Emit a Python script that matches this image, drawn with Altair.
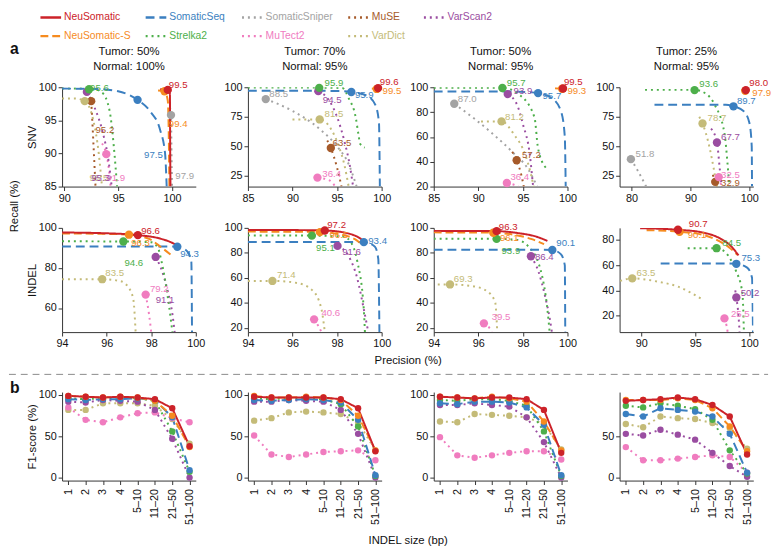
import altair as alt
import pandas as pd

FONT = "Liberation Sans, Arial, Helvetica, sans-serif"

TOOLS = ["NeuSomatic", "SomaticSeq", "SomaticSniper", "MuSE", "VarScan2",
         "NeuSomatic-S", "Strelka2", "MuTect2", "VarDict"]
COLORS = ["#cc2229", "#3b7fc0", "#a3a3a3", "#a65a2a", "#9a4da1",
          "#f68b1f", "#4daf4a", "#f07cbf", "#c4bb78"]
DASHES = [[1, 0], [9, 5], [2, 4], [2, 4], [2, 4], [8, 4], [2, 4], [2, 4], [2, 4]]
DRAW_ORDER = ["SomaticSniper", "MuSE", "VarDict", "MuTect2", "VarScan2",
              "Strelka2", "SomaticSeq", "NeuSomatic-S", "NeuSomatic"]

PANEL_TITLES = [["Tumor: 50%", "Normal: 100%"], ["Tumor: 70%", "Normal: 95%"],
                ["Tumor: 50%", "Normal: 95%"], ["Tumor: 25%", "Normal: 95%"]]

# tool: (precision list, recall list, marked point, label, label anchor)
SNV_1 = {
    "NeuSomatic": ([98.9, 99.6, 99.8, 99.82, 99.85], [99.7, 99.6, 99.0, 92, 85], (99.6, 99.6), "99.5", (99.7, 100.4)),
    "NeuSomatic-S": ([98.7, 99.3, 99.6, 99.7, 99.75], [99.5, 99.4, 98.0, 92, 85], (99.3, 99.4), "99.4", (99.7, 94.5)),
    "SomaticSeq": ([89.8, 93.0, 95.0, 96.8, 98.0, 98.9, 99.35, 99.5], [99.8, 99.75, 99.4, 98.1, 96.3, 93.5, 90, 85], (96.8, 98.1), "97.5", (97.4, 89.7)),
    "SomaticSniper": ([99.8, 99.9, 99.95, 100.0], [97.0, 95.8, 90, 85], (99.9, 95.8), "97.9", (100.3, 86.6)),
    "MuSE": ([92.5, 92.6, 92.75, 92.9], [97.9, 95, 90, 85], (92.5, 97.9), "95.2", (92.9, 93.6)),
    "VarDict": ([89.8, 91.0, 91.9, 92.7, 93.2, 93.5], [98.3, 98.3, 97.9, 95, 90, 85], (91.9, 97.9), "95.5", (92.35, 86.3)),
    "VarScan2": ([92.1, 92.8, 93.6, 94.1, 94.4], [99.3, 97, 93, 89, 85], (92.1, 99.3), "95.3", (92.5, 86.3)),
    "Strelka2": ([89.8, 92.5, 93.5, 94.2, 94.6, 94.9], [99.8, 99.8, 99.2, 96.5, 91, 85], (92.3, 99.7), "95.6", (92.4, 99.9)),
    "MuTect2": ([93.5, 93.9, 94.15, 94.3], [91.5, 89.9, 87.5, 85], (93.9, 89.9), "91.9", (93.9, 86.3)),
}
SNV_2 = {
    "NeuSomatic": ([99.1, 99.6, 99.8], [99.6, 99.3, 97.8], (99.6, 99.3), "99.6", (99.8, 104.5)),
    "NeuSomatic-S": ([98.9, 99.45, 99.7], [98.9, 98.6, 97.0], (99.45, 98.6), "99.5", (100.1, 96.7)),
    "SomaticSeq": ([85, 93, 95.5, 96.6, 98.3, 99.3, 99.7, 99.8], [97.0, 97.0, 96.7, 96.0, 93, 85, 70, 16], (96.6, 96.0), "95.9", (97.0, 93.8)),
    "Strelka2": ([85, 93.0, 95.6, 96.3, 97.1, 97.4, 97.6, 98.1], [99.7, 99.7, 99.3, 90.8, 74.2, 60, 52, 49], (93.0, 99.5), "95.9", (93.6, 103.3)),
    "VarScan2": ([92.9, 94.0, 95.0, 95.8, 96.4, 96.8], [96.7, 90, 75, 55, 35, 16], (92.9, 96.7), "94.5", (93.4, 89.4)),
    "SomaticSniper": ([87.0, 90.0, 93.0, 95.0, 96.3, 97.2], [90, 80, 65, 50, 35, 16], (87.0, 90.0), "88.5", (87.4, 94.5)),
    "VarDict": ([90.0, 93.05, 94.3, 95.2, 95.8, 96.3], [72.8, 72.8, 65, 50, 35, 16], (93.05, 72.8), "81.5", (93.6, 77)),
    "MuSE": ([93.9, 94.3, 95.0, 95.5], [55, 48.6, 32, 16], (94.3, 48.6), "63.5", (94.5, 52.8)),
    "MuTect2": ([92.8, 94.2, 94.8], [23.6, 21, 16], (92.8, 23.6), "36.4", (93.35, 27)),
}
SNV_3 = {
    "NeuSomatic": ([99.0, 99.5, 99.8], [99.4, 99.0, 97.0], (99.5, 99.0), "99.5", (99.6, 104.2)),
    "NeuSomatic-S": ([98.6, 99.4, 99.7], [99.2, 98.8, 97.3], (99.4, 98.8), "99.3", (100.0, 96.8)),
    "SomaticSeq": ([85, 93, 95.5, 96.7, 98.3, 99.3, 99.7, 99.8], [96.6, 96.6, 96.2, 95.3, 91, 80, 60, 20], (96.7, 95.3), "95.7", (97.2, 92.7)),
    "Strelka2": ([85, 92.7, 94.6, 96.3, 96.7, 97.6], [99.7, 99.7, 94, 75.7, 50.8, 35], (92.7, 99.4), "95.7", (93.2, 103)),
    "VarScan2": ([93.3, 94.4, 95.0, 95.8, 96.1, 96.15], [94.5, 85, 70.4, 44.3, 23.4, 20], (93.3, 94.5), "93.9", (93.95, 96.6)),
    "SomaticSniper": ([87.3, 89.5, 91.6, 93.8, 95.6, 96.6], [86.7, 75, 62.6, 48, 33.9, 20], (87.3, 86.7), "87.0", (87.7, 90.8)),
    "VarDict": ([90.3, 92.6, 94.0, 95.3, 95.9, 96.2], [72.5, 72.5, 62, 45, 30, 20], (92.6, 72.5), "81.2", (93.0, 76.2)),
    "MuSE": ([93.8, 94.3, 94.8, 95.1], [48, 41.2, 30, 20], (94.3, 41.2), "57.2", (94.9, 45.6)),
    "MuTect2": ([93.2, 94.0, 94.5], [22.9, 21.5, 20], (93.2, 22.9), "36.4", (93.6, 27.3)),
}
SNV_4 = {
    "NeuSomatic": ([98.8, 99.4, 99.7], [98.0, 97.6, 96.5], (99.4, 97.6), "98.0", (100.0, 103.3)),
    "NeuSomatic-S": ([98.6, 99.3, 99.6], [97.6, 97.0, 95.5], (99.3, 97.0), "97.9", (100.5, 95.0)),
    "SomaticSeq": ([83.9, 96.0, 97.3, 99.0, 100.0, 100.4, 100.45], [85.3, 85.3, 83.9, 80, 70, 50, 16], (97.3, 83.9), "89.7", (97.9, 88.6)),
    "Strelka2": ([82.3, 90.7, 92.8, 94.1, 95.8, 96.3, 96.6], [97.8, 97.8, 94, 85.3, 60.3, 35, 16], (90.7, 97.6), "93.6", (91.5, 102.5)),
    "VarDict": ([91.5, 92.05, 93.2, 94.0, 94.5], [75, 69.4, 50, 30, 16], (92.05, 69.4), "78.7", (92.9, 74.2)),
    "VarScan2": ([93.5, 94.5, 95.0, 95.3], [65, 53.3, 30, 16], (94.5, 53.3), "67.7", (95.2, 57.5)),
    "SomaticSniper": ([79.9, 81.0, 82.5], [39.2, 30, 16], (79.9, 39.2), "51.8", (80.7, 43.1)),
    "MuTect2": ([94.8, 95.3], [24, 16], (94.8, 24), "32.5", (95.2, 25.6)),
    "MuSE": ([93.8, 94.2, 94.5], [26, 20, 16], (94.2, 20.0), "32.9", (95.2, 18.6)),
}

INDEL_1 = {
    "NeuSomatic": ([94.0, 96.0, 97.4, 98.45, 99.0, 99.25], [97.7, 97.3, 96.4, 94.5, 92.2, 90.4], (97.4, 96.4), "96.6", (97.55, 98.5)),
    "NeuSomatic-S": ([94.0, 96.0, 97.0, 97.9, 98.45, 99.0], [97.2, 97.0, 96.6, 94.5, 90.3, 85.5], (97.0, 96.6), "96.3", (97.1, 92.3)),
    "Strelka2": ([94.0, 96.75, 98.0, 98.3, 98.45, 98.8, 98.95], [93.3, 93.2, 92.8, 90, 83.8, 61, 48], (96.75, 93.2), "94.6", (96.8, 82.5)),
    "SomaticSeq": ([94.0, 98.5, 99.17, 99.6, 99.8, 99.83], [90.7, 90.7, 90.6, 88.5, 83, 48], (99.17, 90.6), "94.3", (99.3, 87.1)),
    "VarScan2": ([98.2, 98.5, 98.75, 98.95, 99.05], [85.5, 78, 68, 57, 48], (98.2, 85.5), "91.1", (98.2, 63.9)),
    "VarDict": ([94.0, 95.8, 96.6, 97.0, 97.2, 97.3], [74.4, 74.4, 73.5, 70, 64, 48], (95.8, 74.4), "83.5", (95.94, 77.3)),
    "MuTect2": ([97.75, 97.9, 98.0], [66.7, 57, 48], (97.75, 66.7), "79.2", (97.94, 69.5)),
}
INDEL_2 = {
    "NeuSomatic": ([94, 96.5, 97.45, 98.4, 98.9, 99.2], [98.3, 98.2, 97.9, 96, 93, 89.6], (97.45, 97.9), "97.2", (97.56, 102.6)),
    "NeuSomatic-S": ([94, 96.5, 97.23, 98.2, 98.8, 99.1], [97.0, 96.9, 96.6, 94.5, 91, 87], (97.23, 96.6), "96.5", (97.66, 94.3)),
    "Strelka2": ([94, 96.87, 98.3, 98.6, 98.9, 99.2, 99.25], [94.0, 93.8, 93, 89, 73.9, 34.7, 16.7], (96.87, 93.8), "95.1", (97.06, 83.8)),
    "SomaticSeq": ([94, 98.6, 99.2, 99.7, 99.85, 99.9], [88.8, 88.8, 88.6, 85, 75, 16.7], (99.2, 88.6), "93.4", (99.4, 89.6)),
    "VarScan2": ([98.02, 98.5, 98.9, 99.2, 99.4], [85.6, 78, 60, 35, 16.7], (98.02, 85.6), "91.6", (98.23, 80.4)),
    "VarDict": ([94, 95.1, 96.2, 96.9, 97.3, 97.45], [57.6, 57.6, 56, 50, 35, 16.7], (95.1, 57.6), "71.4", (95.3, 62.1)),
    "MuTect2": ([96.97, 97.15, 97.3], [26.9, 22, 16.7], (96.97, 26.9), "40.6", (97.3, 32.3)),
}
INDEL_3 = {
    "NeuSomatic": ([94, 96.0, 96.82, 97.8, 98.6, 99.1], [97.6, 97.5, 97.4, 95.8, 93, 89.6], (96.82, 97.4), "96.3", (96.92, 100.5)),
    "NeuSomatic-S": ([94, 96.0, 96.67, 97.6, 98.4, 98.95], [96.4, 96.3, 96.1, 94.5, 91, 87], (96.67, 96.1), "96.1", (96.97, 92.2)),
    "Strelka2": ([94, 96.82, 97.7, 98.2, 98.8, 99.1, 99.2], [91.4, 91.2, 90.5, 86, 66, 34.7, 16.7], (96.82, 91.2), "93.9", (97.04, 81.2)),
    "SomaticSeq": ([94, 98.8, 99.32, 99.7, 99.88, 99.9], [82.5, 82.5, 82.3, 79, 70, 16.7], (99.32, 82.3), "90.1", (99.5, 87.5)),
    "VarScan2": ([98.36, 98.7, 99.0, 99.2, 99.3], [77.3, 65, 45, 28, 16.7], (98.36, 77.3), "86.4", (98.54, 76.5)),
    "VarDict": ([94.18, 94.73, 95.7, 96.3, 96.75, 96.85], [54.8, 54.8, 53.5, 50.4, 41.2, 16.7], (94.73, 54.8), "69.3", (94.9, 59.5)),
    "MuTect2": ([96.25, 96.5, 96.6], [23.7, 20, 16.7], (96.25, 23.7), "39.5", (96.6, 28.5)),
}
INDEL_4 = {
    "NeuSomatic": ([89.9, 93.4, 95.6, 97.4, 98.3, 99.0], [89.0, 87.8, 85.8, 80.5, 75, 67.6], (93.4, 87.8), "90.7", (94.4, 92.6)),
    "NeuSomatic-S": ([90.5, 93.55, 95.6, 97.3, 98.2, 98.9], [87.5, 86.2, 84, 78.5, 73.5, 68], (93.55, 86.2), "90.1", (94.3, 83.9)),
    "Strelka2": ([94.3, 96.97, 97.8, 98.3, 98.74, 99.36, 99.5], [73.3, 73.3, 70, 64, 56, 37.9, 7.2], (96.97, 73.3), "84.5", (97.5, 77.2)),
    "SomaticSeq": ([91.8, 98.0, 98.8, 99.8, 100.25, 100.34], [61.2, 61.2, 61.0, 58, 50, 7.2], (98.8, 61.0), "75.3", (99.27, 65.5)),
    "VarScan2": ([98.7, 98.8, 99.0, 99.1], [40, 34.5, 20, 7.2], (98.8, 34.5), "50.2", (99.2, 37.9)),
    "VarDict": ([88.05, 89.17, 91.5, 93.4, 95.7], [47.5, 49.5, 47, 43, 32.7], (89.17, 49.5), "63.5", (89.57, 53.9)),
    "MuTect2": ([97.7, 97.9, 98.0], [18, 12, 7.2], (97.7, 18), "25.5", (98.3, 21.5)),
}

SNV_PANELS = [SNV_1, SNV_2, SNV_3, SNV_4]
SNV_XDOM = [[89.8, 102.2], [85, 100], [85, 100], [77.98, 100.67]]
SNV_YDOM = [[85, 100], [16, 100], [20, 100], [16, 100]]
SNV_XTICKS = [[90, 95, 100], [85, 90, 95, 100], [85, 90, 95, 100], [80, 90, 100]]
SNV_YTICKS = [[85, 90, 95, 100], [25, 50, 75, 100], [20, 40, 60, 80, 100], [25, 50, 75, 100]]

INDEL_PANELS = [INDEL_1, INDEL_2, INDEL_3, INDEL_4]
INDEL_XDOM = [[94, 100], [94, 100], [94, 100], [88.0, 100.37]]
INDEL_YDOM = [[48, 100], [16.7, 100], [16.7, 100], [7.2, 89.3]]
INDEL_XTICKS = [[94, 96, 98, 100], [94, 96, 98, 100], [94, 96, 98, 100], [90, 95, 100]]
INDEL_YTICKS = [[60, 80, 100], [20, 40, 60, 80, 100], [20, 40, 60, 80, 100], [20, 40, 60, 80]]

SIZES = ["1", "2", "3", "4", "5\u201310", "11\u201320", "21\u201350", "51\u2013100"]
F1_1 = {
    "NeuSomatic": [99, 98, 97, 98, 97, 95, 84, 38],
    "NeuSomatic-S": [99, 98, 97, 98, 97, 93, 75, 37],
    "SomaticSeq": [95, 94, 95, 95, 96, 94, 73, 9],
    "Strelka2": [96, 95, 96, 97, 96, 93, 56, 7],
    "VarScan2": [92, 91, 94, 93, 92, 82, 47, 0],
    "VarDict": [82, 82, 90, 90, 90, 87, 71, 41],
    "MuTect2": [85, 70, 67, 73, 78, 79, 72, 67],
}
F1_2 = {
    "NeuSomatic": [98, 97, 97, 97, 97, 95, 84, 32],
    "NeuSomatic-S": [99, 97, 97, 98, 97, 94, 75, 33],
    "SomaticSeq": [94, 93, 94, 95, 94, 91, 70, 3],
    "Strelka2": [96, 95, 96, 96, 95, 89, 62, 2],
    "VarScan2": [92, 92, 94, 93, 92, 82, 53, 0],
    "VarDict": [69, 72, 79, 80, 79, 77, 67, 33],
    "MuTect2": [51, 28, 25, 28, 31, 32, 33, 21],
}
F1_3 = {
    "NeuSomatic": [98, 97, 96, 97, 97, 95, 82, 30],
    "NeuSomatic-S": [98, 97, 96, 98, 96, 92, 68, 33],
    "SomaticSeq": [90, 89, 92, 92, 91, 85, 64, 3],
    "Strelka2": [94, 93, 95, 95, 93, 87, 56, 2],
    "VarScan2": [88, 88, 90, 88, 86, 73, 43, 0],
    "VarDict": [68, 67, 77, 76, 75, 73, 65, 34],
    "MuTect2": [49, 27, 24, 27, 30, 32, 32, 22],
}
F1_4 = {
    "NeuSomatic": [93, 94, 95, 97, 95, 88, 74, 28],
    "NeuSomatic-S": [94, 94, 94, 96, 94, 84, 62, 32],
    "SomaticSeq": [77, 74, 84, 82, 80, 74, 53, 6],
    "Strelka2": [87, 85, 90, 87, 83, 70, 33, 5],
    "VarScan2": [53, 51, 58, 52, 46, 30, 14, 1],
    "VarDict": [65, 61, 74, 72, 71, 66, 60, 35],
    "MuTect2": [37, 21, 21, 23, 25, 27, 25, 6],
}
F1_PANELS = [F1_1, F1_2, F1_3, F1_4]
F1_YTICKS = [[0, 50, 100], [0, 50, 100], [0, 50, 100], [0, 50]]

# ---------------------------------------------------------------------------
# layout (pixels)
W = 136
LEG_H = 66
LEG_COL_X = [-22, 85, 183, 291, 368]   # start of each legend column, relative to first panel
LEG_ROW_Y = [5, 24]
LEG_LINE = 21

COLOR_SCALE = alt.Scale(domain=TOOLS, range=COLORS)
DASH_SCALE = alt.Scale(domain=TOOLS, range=DASHES)


def color_enc():
    return alt.Color("tool:N", scale=COLOR_SCALE, legend=None)


def dash_enc():
    return alt.StrokeDash("tool:N", scale=DASH_SCALE, legend=None)


def note(text, x, y, size=11.5, weight="normal", angle=0, align="center"):
    return alt.Chart(pd.DataFrame({"t": [text]})).mark_text(
        fontSize=size, fontWeight=weight, angle=angle, align=align,
        baseline="middle", font=FONT, color="#111"
    ).encode(text="t:N", x=alt.value(x), y=alt.value(y))


def legend_cell():
    rows = []
    for j, tool in enumerate(TOOLS):
        c, r = j % 5, j // 5
        x0 = LEG_COL_X[c]
        rows.append(dict(tool=tool, x0=x0, x1=x0 + LEG_LINE, xt=x0 + LEG_LINE + 3, y=LEG_ROW_Y[r]))
    df = pd.DataFrame(rows)
    X = lambda f: alt.X(f, scale=alt.Scale(domain=[0, W], nice=False, zero=False), axis=None)
    Y = alt.Y("y:Q", scale=alt.Scale(domain=[0, LEG_H], reverse=True, nice=False, zero=False), axis=None)
    rule = alt.Chart(df).mark_rule(strokeWidth=2.5).encode(
        X("x0:Q"), x2="x1:Q", y=Y, color=color_enc(), strokeDash=dash_enc())
    txt = alt.Chart(df).mark_text(align="left", baseline="middle", fontSize=10.5, font=FONT).encode(
        X("xt:Q"), y=Y, text="tool:N", color=color_enc())
    return alt.layer(rule, txt).properties(width=W, height=LEG_H)


def pr_frames(panel):
    L, P, T = [], [], []
    for tool in DRAW_ORDER:
        if tool not in panel:
            continue
        ps, rs, pt, lab, lp = panel[tool]
        for i, (a, b) in enumerate(zip(ps, rs)):
            L.append(dict(tool=tool, i=i, p=a, r=b))
        P.append(dict(tool=tool, p=pt[0], r=pt[1]))
        T.append(dict(tool=tool, p=lp[0], r=lp[1], text=lab))
    return pd.DataFrame(L), pd.DataFrame(P), pd.DataFrame(T)


def pr_panel(panel, xdom, ydom, xticks, yticks, height, ytitle=None, extras=()):
    dl, dp, dt = pr_frames(panel)
    X = alt.X("p:Q", scale=alt.Scale(domain=xdom, nice=False, zero=False),
              axis=alt.Axis(values=xticks, title=None))
    Y = alt.Y("r:Q", scale=alt.Scale(domain=ydom, nice=False, zero=False),
              axis=alt.Axis(values=yticks, title=ytitle, titlePadding=1))
    lines = alt.Chart(dl).mark_line(clip=True, strokeWidth=2, interpolate="monotone").encode(
        X, Y, color=color_enc(), strokeDash=dash_enc(), order=alt.Order("i:Q"))
    pts = alt.Chart(dp).mark_circle(size=72, opacity=1).encode(X, Y, color=color_enc())
    labs = alt.Chart(dt).mark_text(align="left", baseline="middle", fontSize=9.8, font=FONT).encode(
        X, Y, text="text:N", color=color_enc())
    return alt.layer(lines, pts, labs, *extras).properties(width=W, height=height)


def f1_panel(panel, yticks, ytitle=None, extras=()):
    rows = []
    for tool in DRAW_ORDER:
        if tool not in panel:
            continue
        for k, (s, v) in enumerate(zip(SIZES, panel[tool])):
            rows.append(dict(tool=tool, k=k, size=s, f1=v))
    df = pd.DataFrame(rows)
    X = alt.X("size:N", sort=SIZES, scale=alt.Scale(domain=SIZES, type="point", padding=0.36),
              axis=alt.Axis(labelAngle=270, title=None, labelPadding=4))
    Y = alt.Y("f1:Q", scale=alt.Scale(domain=[-3.6, 103.6], nice=False, zero=False),
              axis=alt.Axis(values=yticks, title=ytitle, titlePadding=1))
    lines = alt.Chart(df).mark_line(strokeWidth=2).encode(
        X, Y, color=color_enc(), strokeDash=dash_enc(), order=alt.Order("k:Q"))
    pts = alt.Chart(df).mark_circle(size=42, opacity=1).encode(X, Y, color=color_enc())
    return alt.layer(lines, pts, *extras).properties(width=W, height=90)


snv = []
for k in range(4):
    extras = [note(PANEL_TITLES[k][0], W / 2, -36), note(PANEL_TITLES[k][1], W / 2, -21)]
    if k == 0:
        extras.append(note("a", -53, -39, size=16, weight="bold", align="left"))
    snv.append(pr_panel(SNV_PANELS[k], SNV_XDOM[k], SNV_YDOM[k], SNV_XTICKS[k], SNV_YTICKS[k],
                        101, ytitle="SNV" if k == 0 else None, extras=extras))

indel = []
for k in range(4):
    extras = []
    if k == 0:
        extras = [note("Recall (%)", -48, -22, angle=270)]
    if k == 1:
        extras = [note("Precision (%)", 163, 135)]
    indel.append(pr_panel(INDEL_PANELS[k], INDEL_XDOM[k], INDEL_YDOM[k], INDEL_XTICKS[k],
                          INDEL_YTICKS[k], 106, ytitle="INDEL" if k == 0 else None, extras=extras))

f1 = []
for k in range(4):
    extras = []
    if k == 0:
        sep = alt.Chart(pd.DataFrame({"t": [0]})).mark_rule(
            strokeDash=[7, 5], color="#8a8a8a", strokeWidth=1
        ).encode(x=alt.value(-54), x2=alt.value(718), y=alt.value(-18))
        extras = [sep, note("b", -53, -4, size=16, weight="bold", align="left")]
    if k == 1:
        extras = [note("INDEL size (bp)", 163, 151)]
    f1.append(f1_panel(F1_PANELS[k], F1_YTICKS[k], ytitle="F1-score (%)" if k == 0 else None,
                       extras=extras))


def spacer(h):
    return alt.Chart(pd.DataFrame({"t": [""]})).mark_text().encode(text="t:N").properties(width=W, height=h)


cells = ([legend_cell()] + [spacer(LEG_H) for _ in range(3)] + snv
         + [spacer(22) for _ in range(4)] + indel
         + [spacer(41) for _ in range(4)] + f1)

chart = alt.concat(
    *cells, columns=4, spacing={"row": 10, "column": 53}, bounds="flush"
).resolve_scale(color="shared", strokeDash="shared").properties(
    padding=0
).configure_view(stroke=None).configure_axis(
    grid=False, labelFont=FONT, labelFontSize=11, labelColor="#111", labelFlush=False,
    titleFont=FONT, titleFontSize=11.5, titleFontWeight="normal", titleColor="#111",
    domainColor="#333", tickColor="#333", domainWidth=1, tickWidth=1, tickSize=4,
    labelPadding=2,
)

chart.save("out.html", embed_options={"renderer": "svg", "actions": False})
